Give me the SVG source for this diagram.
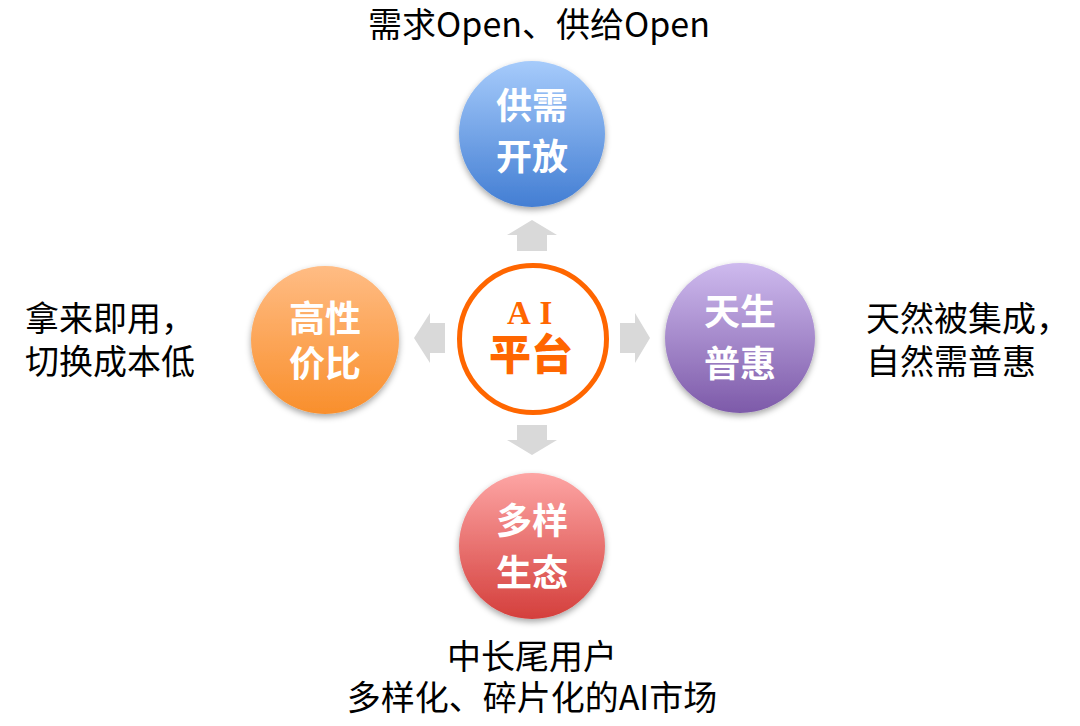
<svg xmlns="http://www.w3.org/2000/svg" width="1080" height="726" viewBox="0 0 1080 726">
<defs>
<style>
.lbl{font-family:"Noto Sans CJK SC","Noto Sans",sans-serif;font-weight:700;font-size:36px;fill:#fff;text-anchor:middle}
.txt{font-family:"Noto Sans CJK SC","Noto Sans",sans-serif;font-size:34px;fill:#000}
.arr{fill:#d9d9d9}
.ai{font-family:"Liberation Serif","Times New Roman",serif;font-weight:700;font-size:33px;fill:#FF6600;text-anchor:middle}
.pt{font-family:"Noto Sans CJK SC",sans-serif;font-weight:900;font-size:42px;fill:#FF6600;text-anchor:middle}
</style>
<linearGradient id="gBlue" x1="0" y1="0" x2="0" y2="1"><stop offset="0" stop-color="#A6CBFB"/><stop offset="1" stop-color="#437ED3"/></linearGradient>
<linearGradient id="gOrange" x1="0" y1="0" x2="0" y2="1"><stop offset="0" stop-color="#FFBC84"/><stop offset="1" stop-color="#F98F2C"/></linearGradient>
<linearGradient id="gPurple" x1="0" y1="0" x2="0" y2="1"><stop offset="0" stop-color="#CEBAEE"/><stop offset="1" stop-color="#7D5AA9"/></linearGradient>
<linearGradient id="gRed" x1="0" y1="0" x2="0" y2="1"><stop offset="0" stop-color="#FDA5A4"/><stop offset="1" stop-color="#D43F3C"/></linearGradient>
<filter id="sh" x="-20%" y="-20%" width="140%" height="150%"><feDropShadow dx="0" dy="3" stdDeviation="3" flood-color="#000" flood-opacity="0.35"/></filter>
</defs>
<rect width="1080" height="726" fill="#fff"/>
<g id="connectors">
<polygon class="arr" points="532,220 557,235 547,235 547,251 517,251 517,235 507,235"/>
<polygon class="arr" points="532,455 557,440 547,440 547,425 517,425 517,440 507,440"/>
<polygon class="arr" points="650,338 635,313 635,323 620,323 620,353 635,353 635,363"/>
<polygon class="arr" points="414,338 430,313 430,323 445,323 445,353 430,353 430,363"/>
</g>
<g id="center">
<circle cx="533" cy="339" r="73.5" fill="none" stroke="#FF6600" stroke-width="5"/>
<text class="pt" x="531" y="370"><tspan class="ai" x="519 546" y="324">AI</tspan><tspan x="531" y="370">平台</tspan></text>
</g>
<g id="top">
<circle cx="532" cy="134" r="73" fill="url(#gBlue)" filter="url(#sh)"/>
<text class="lbl"><tspan x="532" y="119">供需</tspan><tspan x="532" y="170">开放</tspan></text>
</g>
<g id="left">
<circle cx="325" cy="340" r="74" fill="url(#gOrange)" filter="url(#sh)"/>
<text class="lbl"><tspan x="325" y="332">高性</tspan><tspan x="325" y="377">价比</tspan></text>
</g>
<g id="right">
<circle cx="740" cy="338" r="75" fill="url(#gPurple)" filter="url(#sh)"/>
<text class="lbl"><tspan x="740" y="325">天生</tspan><tspan x="740" y="377">普惠</tspan></text>
</g>
<g id="bottom">
<circle cx="532" cy="546" r="73" fill="url(#gRed)" filter="url(#sh)"/>
<text class="lbl"><tspan x="532" y="534">多样</tspan><tspan x="532" y="586">生态</tspan></text>
</g>
<g id="texts">
<text class="txt" x="539" y="37" text-anchor="middle" font-size="31">需求Open、供给Open</text>
<text class="txt"><tspan x="25" y="331">拿来即用，</tspan><tspan x="25" y="374">切换成本低</tspan></text>
<text class="txt"><tspan x="866" y="331">天然被集成，</tspan><tspan x="866" y="374">自然需普惠</tspan></text>
<text class="txt" text-anchor="middle" font-size="33"><tspan x="532" y="669">中长尾用户</tspan><tspan x="532" y="710">多样化、碎片化的AI市场</tspan></text>
</g>
</svg>
